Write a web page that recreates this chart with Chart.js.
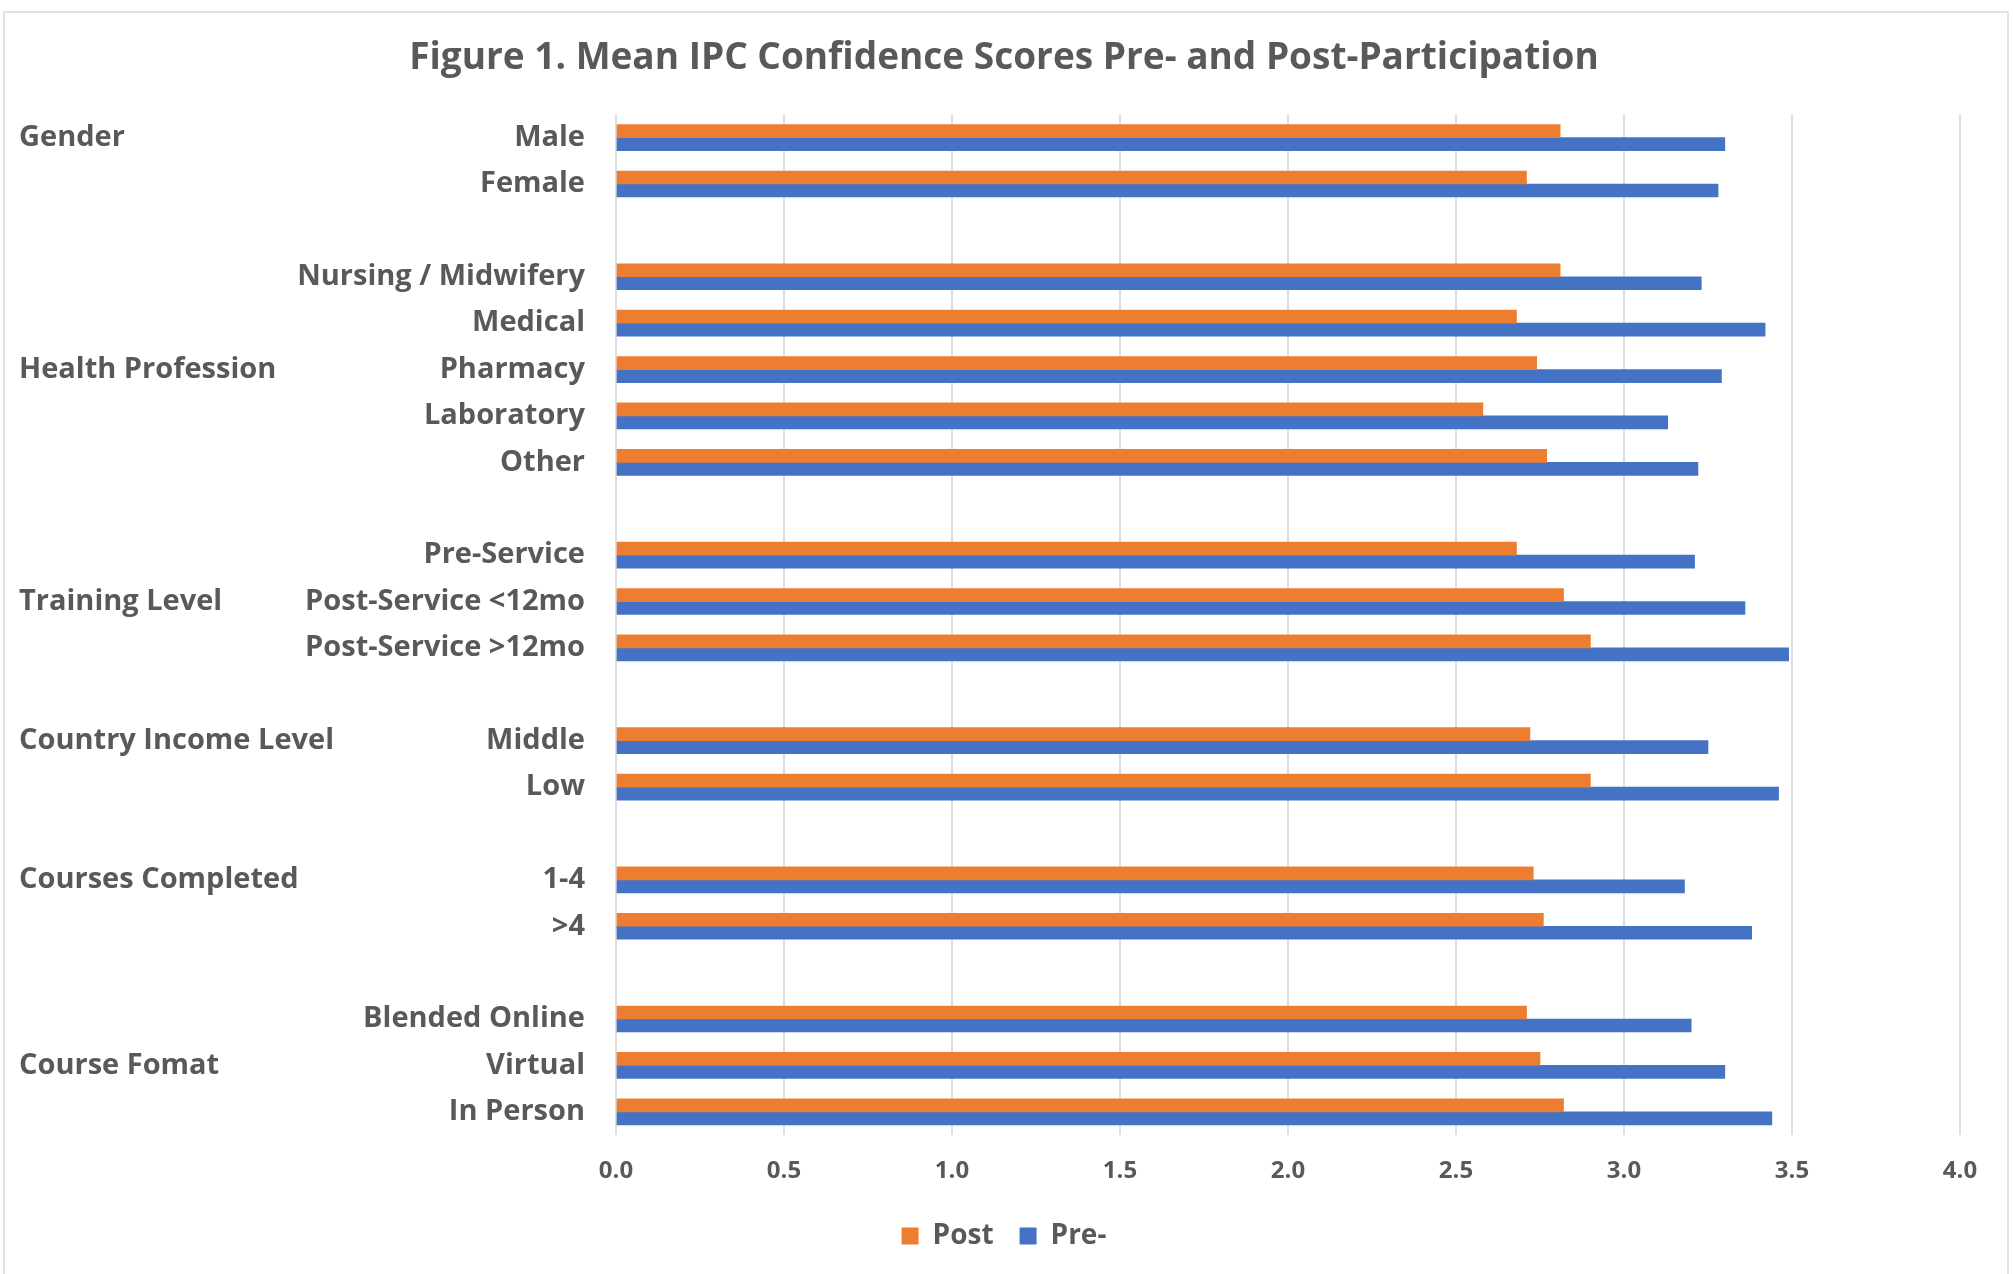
<!DOCTYPE html>
<html>
<head>
<meta charset="utf-8">
<script src="https://cdn.jsdelivr.net/npm/chart.js@4.4.1/dist/chart.umd.min.js"></script>
<style>
  body { margin: 0; background: #fff; }
  #wrap { position: absolute; left: 0; top: 0; width: 2013px; height: 1274px; }
  #frame { position: absolute; left: 3px; top: 11px; width: 2006px; height: 1270px; border: 2px solid #e2e2e2; box-sizing: border-box; }
  canvas { position: absolute; left: 0; top: 0; }
</style>
</head>
<body>
<div id="wrap">
  <div id="frame"></div>
  <canvas id="ipcChart" width="2013" height="1274"></canvas>
</div>
<script>
// rows top to bottom, blank strings are the gaps between groups
const rowLabels = ["Male", "Female", "", "Nursing / Midwifery", "Medical", "Pharmacy", "Laboratory", "Other", "",
  "Pre-Service", "Post-Service <12mo", "Post-Service >12mo", "", "Middle", "Low", "", "1-4", ">4", "",
  "Blended Online", "Virtual", "In Person"];
// group names, placed on the row where they show up
const groupLabels = ["Gender", "", "", "", "", "Health Profession", "", "", "", "", "Training Level", "", "",
  "Country Income Level", "", "", "Courses Completed", "", "", "", "Course Fomat", ""];
const postScores = [2.81, 2.71, null, 2.81, 2.68, 2.74, 2.58, 2.77, null, 2.68, 2.82, 2.90, null,
  2.72, 2.90, null, 2.73, 2.76, null, 2.71, 2.75, 2.82];
const preScores = [3.30, 3.28, null, 3.23, 3.42, 3.29, 3.13, 3.22, null, 3.21, 3.36, 3.49, null,
  3.25, 3.46, null, 3.18, 3.38, null, 3.20, 3.30, 3.44];
const xTicks = [0, 0.5, 1, 1.5, 2, 2.5, 3, 3.5, 4];

const grey = "#595959";
const font = "'Open Sans', 'DejaVu Sans', sans-serif";

const ctx = document.getElementById("ipcChart").getContext("2d");
const ipcChart = new Chart(ctx, {
  type: "bar",
  data: {
    labels: rowLabels,
    datasets: [
      {
        label: "Post",
        data: postScores,
        backgroundColor: "#ED7D31",
        barThickness: 13,
      },
      {
        label: "Pre-",
        data: preScores,
        backgroundColor: "#4472C4",
        barThickness: 13,
      },
    ],
  },
  options: {
    indexAxis: "y",
    responsive: false,
    devicePixelRatio: 1,
    animation: false,
    layout: { padding: { left: 0, right: 5, top: 0, bottom: 14 } },
    scales: {
      x: {
        min: 0,
        max: 4,
        afterBuildTicks: (scale) => {
          scale.ticks = xTicks.map((v) => ({ value: v }));
        },
        afterFit: (scale) => {
          scale.height = 61;
        },
        ticks: {
          callback: (v) => Number(v).toFixed(1),
          color: grey,
          padding: 22,
          font: { family: font, size: 24, weight: "bold" },
        },
        grid: { color: "#dedede", lineWidth: 2, drawTicks: false },
        border: { display: false },
      },
      y: {
        weight: 0,
        offset: true,
        afterFit: (scale) => {
          scale.width = 616;
        },
        ticks: {
          autoSkip: false,
          color: grey,
          padding: 23,
          font: { family: font, size: 29, weight: "bold" },
        },
        grid: { display: false },
        border: { display: false },
      },
      // group names on the far left
      y2: {
        type: "category",
        position: "left",
        weight: 1,
        offset: true,
        labels: groupLabels,
        afterFit: (scale) => {
          scale.width = 0;
        },
        ticks: {
          autoSkip: false,
          mirror: true,
          crossAlign: "near",
          padding: 19,
          color: grey,
          font: { family: font, size: 29, weight: "bold" },
        },
        grid: { display: false },
        border: { display: false },
      },
      // empty strip on the right so the plot ends at 4.0 where it should
      yRight: {
        type: "category",
        position: "right",
        labels: rowLabels,
        afterFit: (scale) => {
          scale.width = 48;
        },
        ticks: { display: false },
        grid: { display: false },
        border: { display: false },
      },
    },
    plugins: {
      title: {
        display: true,
        text: "Figure 1. Mean IPC Confidence Scores Pre- and Post-Participation",
        color: grey,
        font: { family: font, size: 37, weight: "bold" },
        padding: { top: 36, bottom: 34 },
      },
      legend: {
        position: "bottom",
        labels: {
          color: grey,
          boxWidth: 17,
          boxHeight: 17,
          padding: 26,
          font: { family: font, size: 28, weight: "bold" },
        },
      },
      tooltip: { enabled: false },
    },
  },
});
</script>
</body>
</html>
